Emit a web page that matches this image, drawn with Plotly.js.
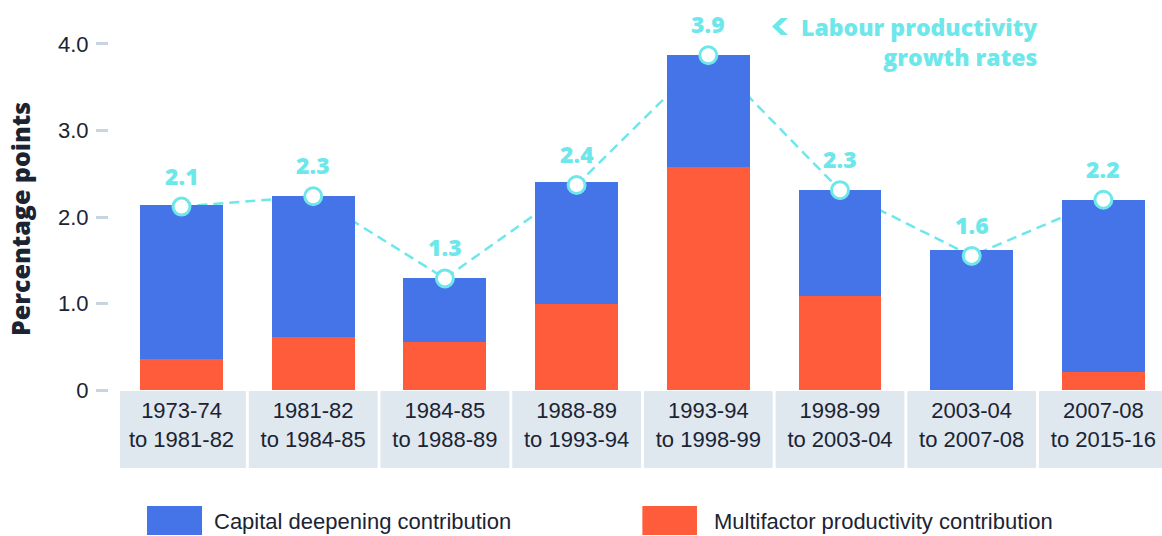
<!DOCTYPE html>
<html>
<head>
<meta charset="utf-8">
<script src="https://cdn.plot.ly/plotly-3.0.1.min.js"></script>
<style>html,body{margin:0;padding:0;background:#fff;}#chart{width:1162px;height:536px;}</style>
</head>
<body>
<div id="chart"></div>
<script>
// ---- Data ----
const categories = [
  "1973-74<br>to 1981-82",
  "1981-82<br>to 1984-85",
  "1984-85<br>to 1988-89",
  "1988-89<br>to 1993-94",
  "1993-94<br>to 1998-99",
  "1998-99<br>to 2003-04",
  "2003-04<br>to 2007-08",
  "2007-08<br>to 2015-16"
];
const multifactor = [0.36, 0.61, 0.55, 1.00, 2.58, 1.09, 0.00, 0.21];
const capitalDeepening = [1.78, 1.63, 0.74, 1.41, 1.29, 1.22, 1.62, 1.99];
const labourProductivity = [2.12, 2.24, 1.29, 2.37, 3.87, 2.31, 1.55, 2.20];
const labourLabels = ["2.1", "2.3", "1.3", "2.4", "3.9", "2.3", "1.6", "2.2"];
const yTickVals = [0, 1, 2, 3, 4];
const yTickText = ["0", "1.0", "2.0", "3.0", "4.0"];
const seriesNames = ["Capital deepening contribution", "Multifactor productivity contribution"];
const lineName = "Labour productivity<br>growth rates";

// ---- Style ----
const BLUE = "#4573e8";
const RED = "#ff5c3b";
const CYAN = "#6ee7eb";
const DARK = "#1b2433";
const BOX = "#dfe7ef";
const idx = categories.map((_, i) => i);

const xRange = [-0.467, 7.445];
const yRange = [0, 4.393];

const traces = [
  { // dashed line behind bars (base subplot)
    type: "scatter", mode: "lines", x: idx, y: labourProductivity,
    xaxis: "x", yaxis: "y",
    line: { color: CYAN, width: 2.5, dash: "10px,6px" },
    hoverinfo: "skip", showlegend: false
  },
  {
    type: "bar", name: seriesNames[1], x: idx, y: multifactor,
    xaxis: "x2", yaxis: "y2", marker: { color: RED }, width: 0.63, showlegend: false
  },
  {
    type: "bar", name: seriesNames[0], x: idx, y: capitalDeepening,
    xaxis: "x2", yaxis: "y2", marker: { color: BLUE }, width: 0.63, showlegend: false
  },
  {
    type: "scatter", mode: "markers", x: idx, y: labourProductivity,
    xaxis: "x2", yaxis: "y2", cliponaxis: false,
    marker: { size: 17, color: "#ffffff", line: { color: CYAN, width: 3 } },
    showlegend: false
  }
];

const shapes = idx.map(i => ({
  type: "rect", layer: "below", xref: "x", yref: "paper",
  x0: i - 0.489, x1: i + 0.489, y0: -0.0026, y1: -0.205,
  fillcolor: BOX, line: { width: 0 }
}));
// legend swatches
shapes.push({ type: "rect", xref: "paper", yref: "paper", x0: 0.037, x1: 0.0892, y0: -0.3816, y1: -0.305, fillcolor: BLUE, line: { width: 0 } });
shapes.push({ type: "rect", xref: "paper", yref: "paper", x0: 0.507, x1: 0.5588, y0: -0.3816, y1: -0.305, fillcolor: RED, line: { width: 0 } });
// chevron next to the line label
shapes.push({
  type: "path", xref: "paper", yref: "paper",
  path: "M 0.6385 0.9789 L 0.6452 0.9789 L 0.6366 0.9566 L 0.6452 0.9342 L 0.6385 0.9342 L 0.6300 0.9566 Z",
  fillcolor: CYAN, line: { width: 0 }
});

const LABELFONT = { family: "Open Sans", size: 23, color: CYAN, weight: 800 };
const annotations = idx.map(i => ({
  xref: "x", yref: "y", x: i, y: labourProductivity[i], yshift: 31,
  text: labourLabels[i], showarrow: false, font: LABELFONT
}));
annotations.push({
  xref: "paper", yref: "paper", x: 0.8843, y: 0.9158, xanchor: "right", yanchor: "middle",
  text: lineName, showarrow: false, align: "right", font: LABELFONT
});
annotations.push({
  xref: "paper", yref: "paper", x: -0.0835, y: 0.45, xanchor: "center", yanchor: "middle",
  text: "Percentage points", textangle: -90, showarrow: false,
  font: { family: "Open Sans", size: 25, color: DARK, weight: 800 }
});
annotations.push({
  xref: "paper", yref: "paper", x: 0.0987, y: -0.347, xanchor: "left", yanchor: "middle",
  text: seriesNames[0], showarrow: false,
  font: { family: "Liberation Sans", size: 22, color: DARK }
});
annotations.push({
  xref: "paper", yref: "paper", x: 0.5735, y: -0.347, xanchor: "left", yanchor: "middle",
  text: seriesNames[1], showarrow: false,
  font: { family: "Liberation Sans", size: 22, color: DARK }
});

const layout = {
  width: 1162, height: 536,
  margin: { l: 108, r: 0, t: 10, b: 146 },
  paper_bgcolor: "#ffffff", plot_bgcolor: "rgba(0,0,0,0)",
  barmode: "stack", showlegend: false,
  font: { family: "Liberation Sans", color: DARK },
  xaxis: {
    domain: [0.01139, 1], range: xRange, tickmode: "array", tickvals: idx, ticktext: categories,
    showgrid: false, zeroline: false, showline: false, ticks: "",
    tickfont: { family: "Liberation Sans", size: 22, color: DARK }, ticklabelstandoff: 5
  },
  yaxis: {
    anchor: "free", position: 0, range: yRange, tickmode: "array", tickvals: yTickVals, ticktext: yTickText,
    showgrid: false, zeroline: false, showline: false,
    ticks: "outside", ticklen: 12, tickwidth: 3, tickcolor: "#c9d4e2", ticklabelstandoff: 3,
    tickfont: { family: "Liberation Sans", size: 22, color: DARK }
  },
  xaxis2: { overlaying: "x", domain: [0.01139, 1], range: xRange, visible: false, anchor: "y2" },
  yaxis2: { overlaying: "y", range: yRange, visible: false, anchor: "x2" },
  shapes: shapes,
  annotations: annotations
};

Plotly.newPlot("chart", traces, layout, { displayModeBar: false, staticPlot: true });
</script>
</body>
</html>
